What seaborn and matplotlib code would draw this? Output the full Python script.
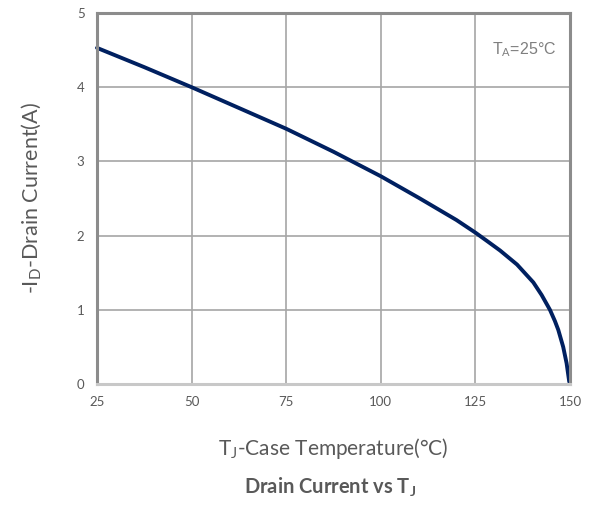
import matplotlib
matplotlib.use("Agg")
import matplotlib.pyplot as plt
import seaborn as sns
import pandas as pd

temperature = [25, 37.5, 50, 62.5, 75, 87.5, 100, 110, 120, 125, 128, 131.5, 136, 140.3, 142.5, 144.7, 146, 146.9, 148.2, 149.1, 149.8]
current = [4.53, 4.27, 4.00, 3.72, 3.44, 3.13, 2.80, 2.51, 2.21, 2.04, 1.93, 1.80, 1.61, 1.37, 1.20, 1.00, 0.85, 0.73, 0.50, 0.28, 0.03]
x_ticks = [25, 50, 75, 100, 125, 150]
y_ticks = [0, 1, 2, 3, 4, 5]

sns.set_theme(style="white")
plt.rcParams['font.family'] = ['Lato', 'DejaVu Sans']
plt.rcParams['mathtext.fontset'] = 'custom'
plt.rcParams['mathtext.rm'] = 'Lato'
plt.rcParams['mathtext.it'] = 'Lato'
plt.rcParams['mathtext.bf'] = 'Lato:bold'

df = pd.DataFrame({"T": temperature, "I": current})

fig = plt.figure(figsize=(5.93, 5.07), dpi=100)
ax = fig.add_axes([97/593, 1-384/507, (570-97)/593, (384-13)/507])

ax.set_xlim(25, 150)
ax.set_ylim(0, 5)
ax.set_xticks(x_ticks)
ax.set_yticks(y_ticks)
ax.grid(True, color="#a6a6a6", linewidth=1.2)
ax.set_axisbelow(True)

sns.lineplot(data=df, x="T", y="I", ax=ax, color="#002060", linewidth=2.8, clip_on=False)

for side in ["left", "top", "right"]:
    ax.spines[side].set_color("#8c8c8c")
    ax.spines[side].set_linewidth(2.2)
ax.spines["bottom"].set_color("#c8c8c8")
ax.spines["bottom"].set_linewidth(2.2)

ax.tick_params(axis="both", length=0, labelsize=9.5, labelcolor="#595959", pad=9)

ax.set_xlabel(r"T$_\mathrm{J}$-Case Temperature(°C)", fontsize=15, color="#595959", labelpad=20)
ax.set_ylabel(r"-I$_\mathrm{D}$-Drain Current(A)", fontsize=15.5, color="#595959", labelpad=24)

ax.text(0.97, 0.9, r"T$_\mathrm{A}$=25°C", transform=ax.transAxes, ha="right", va="center",
        fontsize=11.5, color="#7f7f7f", family=["Liberation Sans", "DejaVu Sans"])

fig.text(330/593, 1-487/507, r"Drain Current vs T$_\mathbf{J}$", ha="center", va="center",
         fontsize=14.5, fontweight="bold", color="#595959")

fig.savefig("out.png", dpi=100)
